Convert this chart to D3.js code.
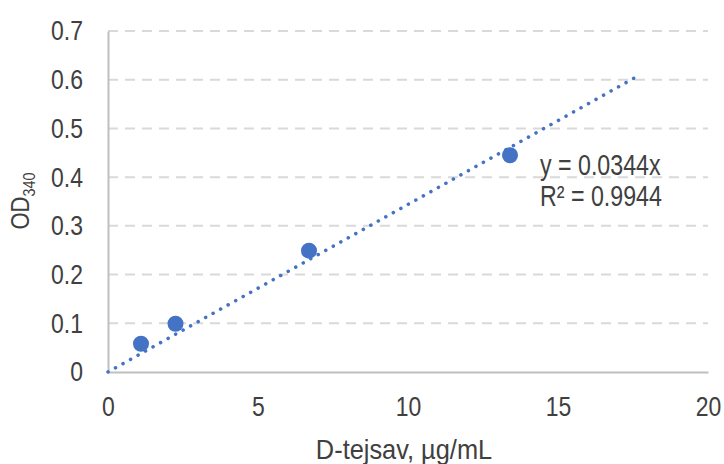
<!DOCTYPE html>
<html>
<head>
<meta charset="UTF-8">
<script src="https://cdn.jsdelivr.net/npm/d3@7"></script>
<style>
  body { margin: 0; background: #fff; }
  text { font-family: "Liberation Sans", Arial, sans-serif; fill: #404040; }
</style>
</head>
<body>
<div id="container"></div>
<script>
  // Datos
  const conc = [1.1, 2.25, 6.7, 13.4];
  const od = [0.058, 0.099, 0.249, 0.445];
  const slope = 0.0344;
  const trendRange = [0, 17.7];
  const xTicks = [0, 5, 10, 15, 20];
  const yTicks = [0, 0.1, 0.2, 0.3, 0.4, 0.5, 0.6, 0.7];

  const width = 724, height = 464;
  const marginLeft = 108, marginRight = 16, marginTop = 31, marginBottom = 92;
  const narrow = 0.82; // simula Arial Narrow

  const x = d3.scaleLinear().domain([0, 20]).range([marginLeft, width - marginRight]);
  const y = d3.scaleLinear().domain([0, 0.7]).range([height - marginBottom, marginTop]);

  const svg = d3.select("#container").append("svg")
    .attr("width", width).attr("height", height);

  // Rejilla
  svg.append("g").selectAll("line")
    .data(yTicks.filter(d => d > 0))
    .join("line")
    .attr("x1", x(0)).attr("x2", x(20))
    .attr("y1", d => y(d)).attr("y2", d => y(d))
    .attr("stroke", "#d9d9d9").attr("stroke-width", 2)
    .attr("stroke-dasharray", "10 7");

  // Ejes
  const gx = svg.append("g")
    .attr("transform", `translate(0,${y(0)})`)
    .call(d3.axisBottom(x).tickValues(xTicks).tickSize(0).tickPadding(24));
  const gy = svg.append("g")
    .attr("transform", `translate(${x(0)},0)`)
    .call(d3.axisLeft(y).tickValues(yTicks).tickSize(0)
      .tickFormat(d => d === 0 ? "0" : d3.format(".1f")(d)));
  [gx, gy].forEach(g => {
    g.select(".domain").attr("stroke", "#bfbfbf").attr("stroke-width", 2);
    g.selectAll("text").attr("font-size", 28).attr("fill", "#404040")
      .attr("font-family", null)
      .attr("transform", `scale(${narrow},1)`);
  });
  gx.selectAll("text").attr("dy", "0.71em");
  gy.selectAll("text").attr("x", -25 / narrow);

  // Línea de tendencia
  svg.append("line")
    .attr("x1", x(trendRange[0])).attr("y1", y(slope * trendRange[0]))
    .attr("x2", x(trendRange[1])).attr("y2", y(slope * trendRange[1]))
    .attr("stroke", "#4472c4").attr("stroke-width", 3.5)
    .attr("stroke-linecap", "round").attr("stroke-dasharray", "0.1 8.5");

  // Puntos
  svg.append("g").selectAll("circle")
    .data(conc.map((c, i) => [c, od[i]]))
    .join("circle")
    .attr("cx", d => x(d[0])).attr("cy", d => y(d[1]))
    .attr("r", 8).attr("fill", "#4472c4");

  // Ecuación
  const eq = svg.append("text")
    .attr("transform", `translate(540,175) scale(0.8,1)`)
    .attr("font-size", 29);
  eq.append("tspan").attr("x", 0).text("y = 0.0344x");
  eq.append("tspan").attr("x", 0).attr("dy", 31).text("R² = 0.9944");

  // Títulos de ejes
  svg.append("text")
    .attr("transform", `translate(${x(10) - 4},459) scale(0.94,1)`)
    .attr("text-anchor", "middle").attr("font-size", 27)
    .text("D-tejsav, µg/mL");

  const yt = svg.append("text")
    .attr("transform", `translate(29,201) rotate(-90) scale(0.85,1)`)
    .attr("text-anchor", "middle").attr("font-size", 26);
  yt.append("tspan").text("OD");
  yt.append("tspan").attr("font-size", 17).attr("dy", 6).text("340");
</script>
</body>
</html>
